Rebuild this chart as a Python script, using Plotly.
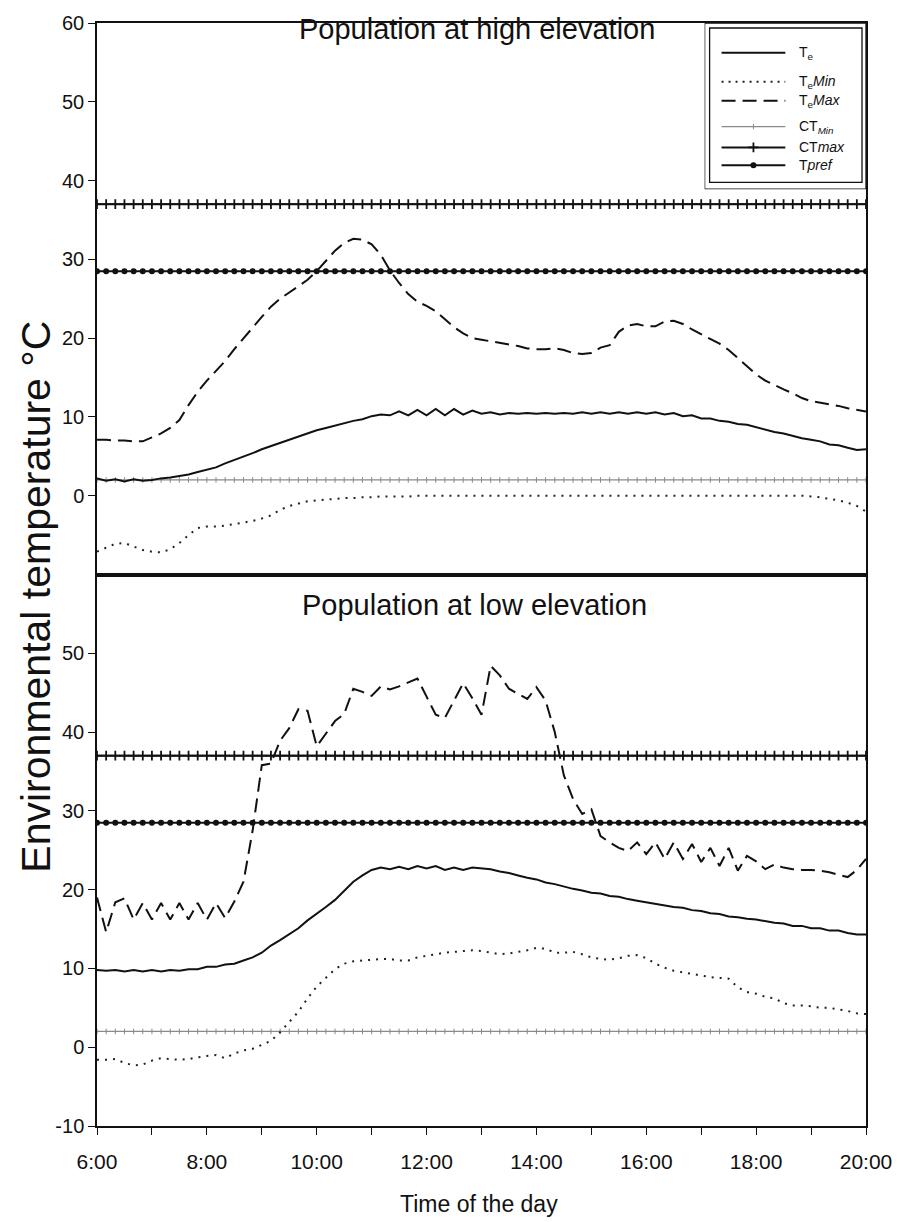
import plotly.graph_objects as go

# ---------------- data ----------------
start_hour = 6
step_minutes = 10
n_points = 85
hours = [start_hour + i * step_minutes / 60 for i in range(n_points)]

tick_hours = [6, 8, 10, 12, 14, 16, 18, 20]
tick_labels = ["6:00", "8:00", "10:00", "12:00", "14:00", "16:00", "18:00", "20:00"]
y_ticks_high = [0, 10, 20, 30, 40, 50, 60]
y_ticks_low = [-10, 0, 10, 20, 30, 40, 50]
y_labels_low = ["-10", "0", "10", "20", "30", "40", "50"]

CT_MIN = 2.0
CT_MAX = 37.0
T_PREF = 28.5

# Population at high elevation
high_te = [2.2, 1.9, 2.1, 1.8, 2.1, 1.9, 2.0, 2.2, 2.3, 2.5, 2.7, 3.0, 3.3, 3.6, 4.1, 4.5, 5.0,
           5.4, 5.9, 6.3, 6.8, 7.2, 7.6, 8.0, 8.3, 8.6, 8.9, 9.2, 9.5, 9.7, 10.1, 10.3, 10.2,
           10.7, 10.2, 10.9, 10.2, 11.0, 10.2, 11.0, 10.3, 10.8, 10.4, 10.6, 10.3, 10.5, 10.4,
           10.5, 10.4, 10.5, 10.4, 10.5, 10.4, 10.6, 10.4, 10.6, 10.4, 10.6, 10.4, 10.6, 10.4,
           10.6, 10.3, 10.5, 10.1, 10.2, 9.8, 9.8, 9.5, 9.4, 9.1, 9.0, 8.7, 8.4, 8.1, 7.9, 7.6,
           7.3, 7.1, 6.9, 6.5, 6.4, 6.1, 5.8, 5.9]
high_temin = [-7.1, -6.6, -6.1, -6.0, -6.5, -6.9, -7.1, -7.2, -6.8, -6.0, -5.0, -4.1, -3.9,
              -3.9, -3.8, -3.6, -3.4, -3.2, -2.9, -2.5, -1.8, -1.3, -1.0, -0.7, -0.6, -0.5,
              -0.4, -0.3, -0.3, -0.2, -0.2, -0.1, -0.1, -0.1, -0.1, 0.0, 0.0, 0.0, 0.0, 0.0,
              0.0, 0.0, 0.0, 0.0, 0.0, 0.0, 0.0, 0.0, 0.0, 0.0, 0.0, 0.0, 0.0, 0.0, 0.0, 0.0,
              0.0, 0.0, 0.0, 0.0, 0.0, 0.0, 0.0, 0.0, 0.0, 0.0, 0.0, 0.0, 0.0, 0.0, 0.0, 0.0,
              0.0, 0.0, 0.0, 0.0, 0.0, 0.0, -0.1, -0.2, -0.4, -0.6, -0.9, -1.3, -2.0]
high_temax = [7.1, 7.1, 7.0, 7.0, 6.9, 6.9, 7.4, 7.9, 8.6, 9.6, 11.5, 13.2, 14.6, 15.9, 17.1,
              18.6, 20.0, 21.3, 22.7, 24.0, 25.0, 25.8, 26.6, 27.4, 28.5, 29.8, 31.1, 32.1,
              32.6, 32.5, 31.9, 30.6, 28.6, 27.0, 25.6, 24.6, 24.1, 23.4, 22.4, 21.4, 20.6,
              20.0, 19.8, 19.6, 19.4, 19.2, 19.0, 18.7, 18.6, 18.6, 18.7, 18.5, 18.1, 18.0,
              18.1, 18.8, 19.1, 20.8, 21.6, 21.8, 21.5, 21.5, 22.1, 22.2, 21.8, 21.1, 20.5,
              19.9, 19.3, 18.5, 17.5, 16.5, 15.4, 14.6, 14.0, 13.5, 13.0, 12.4, 12.0, 11.8,
              11.6, 11.4, 11.1, 10.9, 10.7]

# Population at low elevation
low_te = [9.8, 9.7, 9.8, 9.6, 9.8, 9.6, 9.8, 9.6, 9.8, 9.7, 9.9, 9.9, 10.2, 10.2, 10.5, 10.6,
          11.0, 11.4, 12.0, 12.9, 13.6, 14.3, 15.1, 16.1, 16.9, 17.8, 18.7, 19.8, 21.0, 21.8,
          22.5, 22.8, 22.6, 22.9, 22.6, 23.0, 22.7, 23.0, 22.5, 22.8, 22.5, 22.8, 22.7, 22.6,
          22.3, 22.1, 21.8, 21.5, 21.3, 20.9, 20.7, 20.4, 20.1, 19.9, 19.6, 19.5, 19.2, 19.1,
          18.8, 18.6, 18.4, 18.2, 18.0, 17.8, 17.7, 17.4, 17.3, 17.0, 16.9, 16.6, 16.5, 16.3,
          16.2, 16.0, 15.8, 15.7, 15.4, 15.4, 15.1, 15.1, 14.8, 14.8, 14.5, 14.3, 14.3]
low_temin = [-1.6, -1.6, -1.5, -2.0, -2.3, -2.2, -1.7, -1.4, -1.5, -1.6, -1.5, -1.3, -1.1,
             -1.0, -1.4, -0.8, -0.4, -0.2, 0.3, 0.8, 1.9, 3.2, 4.5, 6.2, 7.7, 8.8, 9.9, 10.6,
             10.9, 11.0, 11.1, 11.2, 11.2, 11.0, 11.0, 11.4, 11.6, 11.8, 12.0, 12.1, 12.2,
             12.3, 12.2, 12.0, 11.8, 11.9, 12.1, 12.3, 12.6, 12.5, 12.0, 12.0, 12.1, 11.8,
             11.4, 11.2, 11.1, 11.3, 11.6, 11.7, 11.3, 10.6, 10.1, 9.7, 9.5, 9.3, 9.1, 8.9,
             8.8, 8.7, 7.6, 7.0, 6.8, 6.4, 6.2, 5.6, 5.3, 5.3, 5.2, 5.0, 5.0, 4.8, 4.6, 4.3, 4.2]
low_temax = [19.0, 14.6, 18.4, 18.9, 16.2, 18.3, 16.2, 18.3, 16.2, 18.3, 16.2, 18.3, 16.2,
             18.3, 16.4, 18.5, 21.0, 27.5, 35.8, 36.0, 38.9, 40.5, 42.9, 42.7, 38.2, 39.8,
             41.4, 42.3, 45.5, 45.1, 44.6, 45.8, 45.4, 45.8, 46.3, 46.8, 44.5, 42.2, 41.8,
             44.0, 46.2, 44.3, 42.2, 48.4, 47.2, 45.5, 44.8, 44.2, 45.7, 44.0, 40.0, 34.5,
             31.5, 29.6, 30.2, 26.8, 26.0, 25.3, 24.9, 26.0, 24.5, 26.0, 23.9, 26.0, 23.9,
             25.8, 23.5, 25.3, 23.0, 25.3, 22.4, 24.3, 23.6, 22.6, 23.2, 22.8, 22.6, 22.5,
             22.5, 22.4, 22.2, 21.9, 21.6, 22.5, 23.9]

panel_titles = ["Population at high elevation", "Population at low elevation"]
legend_labels = ["T<sub>e</sub>", "T<sub>e</sub><i>Min</i>", "T<sub>e</sub><i>Max</i>",
                 "CT<sub><i>Min</i></sub>", "CT<i>max</i>", "T<i>pref</i>"]

# ---------------- styles ----------------
FONT = "Liberation Sans, Arial, sans-serif"
BLACK = "#111111"
style_te = dict(color=BLACK, width=2)
style_min = dict(color="#222222", width=2, dash="2px,6px")
style_max = dict(color=BLACK, width=2, dash="14px,7px")
style_ctmin = dict(color="#8a8a8a", width=1.3)
style_ctmax = dict(color=BLACK, width=2)
style_pref = dict(color=BLACK, width=2)
marker_ctmin = dict(symbol="line-ns", size=4, line=dict(color="#8a8a8a", width=1))
marker_ctmax = dict(symbol="cross-thin", size=7, line=dict(color=BLACK, width=1.8))
marker_pref = dict(symbol="circle", size=6, color=BLACK)

fig = go.Figure()

panels = [("x2", "y2", high_te, high_temin, high_temax),
          ("x", "y", low_te, low_temin, low_temax)]

for xa, ya, te, tmin, tmax in panels:
    fig.add_trace(go.Scatter(x=hours, y=[CT_MIN] * n_points, xaxis=xa, yaxis=ya,
                             mode="lines+markers", line=style_ctmin, marker=marker_ctmin,
                             showlegend=False, hoverinfo="skip"))
    fig.add_trace(go.Scatter(x=hours, y=tmin, xaxis=xa, yaxis=ya, mode="lines",
                             line=style_min, showlegend=False))
    fig.add_trace(go.Scatter(x=hours, y=te, xaxis=xa, yaxis=ya, mode="lines",
                             line=style_te, showlegend=False))
    fig.add_trace(go.Scatter(x=hours, y=tmax, xaxis=xa, yaxis=ya, mode="lines",
                             line=style_max, showlegend=False))
    fig.add_trace(go.Scatter(x=hours, y=[CT_MAX] * n_points, xaxis=xa, yaxis=ya,
                             mode="lines+markers", line=style_ctmax, marker=marker_ctmax,
                             showlegend=False, hoverinfo="skip"))
    fig.add_trace(go.Scatter(x=hours, y=[T_PREF] * n_points, xaxis=xa, yaxis=ya,
                             mode="lines+markers", line=style_pref, marker=marker_pref,
                             showlegend=False, hoverinfo="skip"))

# ---------------- page geometry ----------------
W, H = 904, 1222
ML, MR, MT, MB = 97, 35, 18, 96
PW, PH = W - ML - MR, H - MT - MB


def px_x(px):
    return min(1.0, max(0.0, (px - ML) / PW))


def px_y(py):
    return min(1.0, max(0.0, (H - MB - py) / PH))


# ---------------- legend (drawn on an overlay axis measured in pixels) ----------------
L_X0, L_X1 = 707, ML + PW
L_Y0, L_Y1 = MT, 185
leg_rows_y = [48, 77, 96, 122, 143, 161]
leg_line_x = [724, 788]
leg_mid_x = 756
leg_text_x = 800
leg_styles = [style_te, dict(style_min, dash="2px,5px"), style_max, style_ctmin,
              style_ctmax, style_pref]
leg_markers = [None, None, None, marker_ctmin, marker_ctmax, marker_pref]
for yy, st, mk in zip(leg_rows_y, leg_styles, leg_markers):
    fig.add_trace(go.Scatter(x=leg_line_x, y=[yy, yy], xaxis="x3", yaxis="y3",
                             mode="lines", line=st, showlegend=False, hoverinfo="skip"))
    if mk is not None:
        fig.add_trace(go.Scatter(x=[leg_mid_x], y=[yy], xaxis="x3", yaxis="y3",
                                 mode="markers", marker=mk, showlegend=False,
                                 hoverinfo="skip"))

annotations = []
for yy, lab in zip(leg_rows_y, legend_labels):
    annotations.append(dict(x=leg_text_x, y=yy, xref="x3", yref="y3", text=lab,
                            showarrow=False, xanchor="left", yanchor="middle",
                            font=dict(family=FONT, size=14, color=BLACK)))

shapes = [
    dict(type="rect", xref="x3", yref="y3", x0=L_X0, x1=L_X1, y0=L_Y0, y1=L_Y1,
         line=dict(color=BLACK, width=1.3)),
    dict(type="rect", xref="x3", yref="y3", x0=L_X0 + 5, x1=L_X1 - 4, y0=L_Y0 + 5,
         y1=L_Y1 - 7, line=dict(color=BLACK, width=1.3)),
]

# ---------------- titles ----------------
annotations.append(dict(x=px_x(478), y=px_y(24), xref="paper", yref="paper",
                        text=panel_titles[0], showarrow=False, xanchor="center",
                        yanchor="middle", font=dict(family=FONT, size=29, color=BLACK)))
annotations.append(dict(x=px_x(476), y=px_y(603), xref="paper", yref="paper",
                        text=panel_titles[1], showarrow=False, xanchor="center",
                        yanchor="middle", font=dict(family=FONT, size=29, color=BLACK)))
annotations.append(dict(x=(36 - ML) / PW, y=px_y(594), xref="paper", yref="paper",
                        text="Environmental temperature °C", showarrow=False,
                        textangle=-90, xanchor="center", yanchor="middle",
                        font=dict(family=FONT, size=41, color=BLACK)))
annotations.append(dict(x=px_x(480), y=(H - MB - 1204) / PH, xref="paper", yref="paper",
                        text="Time of the day", showarrow=False, xanchor="center",
                        yanchor="middle", font=dict(family=FONT, size=23, color=BLACK)))

axis_common = dict(showline=True, linecolor=BLACK, linewidth=1.5, mirror=True,
                   showgrid=False, zeroline=False, ticks="outside", ticklen=7,
                   tickwidth=1.3, tickcolor=BLACK,
                   tickfont=dict(family=FONT, size=20, color=BLACK))

fig.update_layout(
    width=W, height=H,
    margin=dict(l=ML, r=MR, t=MT, b=MB, pad=0),
    paper_bgcolor="white", plot_bgcolor="white",
    showlegend=False,
    xaxis=dict(axis_common, domain=[0, 1], anchor="y", range=[6, 20],
               tickvals=tick_hours, ticktext=tick_labels, linewidth=2,
               tickfont=dict(family=FONT, size=21, color=BLACK),
               ticklabelstandoff=9,
               minor=dict(dtick=1, tick0=6, ticks="outside", ticklen=7,
                          tickwidth=1.3, tickcolor=BLACK)),
    xaxis2=dict(axis_common, domain=[0, 1], anchor="y2", range=[6, 20], matches="x",
                showticklabels=False, ticks="", linewidth=2),
    yaxis=dict(axis_common, domain=[0, 0.5], anchor="x", range=[-10, 60],
               tickvals=y_ticks_low, ticktext=y_labels_low),
    yaxis2=dict(axis_common, domain=[0.5, 1], anchor="x2", range=[-10, 60],
                tickvals=y_ticks_high),
    xaxis3=dict(domain=[px_x(L_X0), px_x(L_X1)], anchor="y3", range=[L_X0, L_X1],
                visible=False, fixedrange=True),
    yaxis3=dict(domain=[px_y(L_Y1), px_y(L_Y0)], anchor="x3", range=[L_Y1, L_Y0],
                visible=False, fixedrange=True),
    annotations=annotations,
    shapes=shapes,
)

fig.write_html("out.html")
